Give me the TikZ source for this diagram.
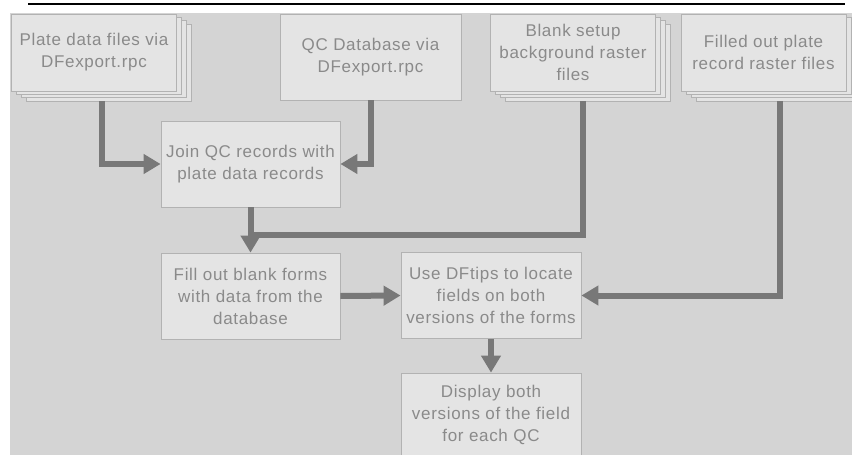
\documentclass[tikz,border=0pt]{standalone}
\usepackage{fontspec}
\setmainfont{Liberation Sans}[LetterSpace=4]
\usetikzlibrary{arrows.meta,shadows,positioning}

\definecolor{paper}{HTML}{D4D4D4}
\definecolor{boxfill}{HTML}{E4E4E4}
\definecolor{boxline}{HTML}{B2B2B2}
\definecolor{boxtext}{HTML}{8A8A8A}
\definecolor{flowline}{HTML}{787878}

\begin{document}
\begin{tikzpicture}[x=1pt,y=-1pt,
    proc/.style={draw=boxline,fill=boxfill,text=boxtext,line width=0.8pt,
      inner sep=0pt,align=center,minimum width=180pt,minimum height=86pt,
      font=\fontsize{17}{22}\selectfont},
    files/.style={proc,minimum width=165pt,minimum height=77pt,
      copy shadow={shadow xshift=15pt,shadow yshift=-10pt},
      copy shadow={shadow xshift=10pt,shadow yshift=-6.7pt},
      copy shadow={shadow xshift=5pt,shadow yshift=-3.3pt}},
    flow/.style={color=flowline,line width=6pt,-{Triangle[length=17pt,width=19pt]}},
    elbow/.style={to path={|- (\tikztotarget)}}]
  \useasboundingbox (0,0) rectangle (852,455);
  \clip (0,0) rectangle (852,455);
  \draw[line width=1.5pt] (28,4) -- (845,4);
  \fill[paper] (10,13) rectangle (852,455);

  % sources
  \node[files] (plate) at (94,52.5) {Plate data files via\\DFexport.rpc};
  \node[proc,minimum width=181pt] (qcdb) at (370.5,57) {QC Database via\\DFexport.rpc};
  \node[files] (blank) at (573,52.5) {Blank setup\\background raster\\files};
  \node[files] (filled) at (763.5,52.5) {Filled out plate\\record raster files};

  % steps
  \node[proc,minimum width=179pt] (join) at (250.5,164) {Join QC records with\\plate data records};
  \node[proc,minimum width=179pt] (fill) at (250.5,296) {Fill out blank forms\\with data from the\\database};
  \node[proc] (usetips) at (491,295.5) {Use DFtips to locate\\fields on both\\versions of the forms};
  \node[proc,minimum height=84pt] (display) at (491,415) {Display both\\versions of the field\\for each QC};
  \coordinate[below=28pt of join.south] (merge);

  \path[flow]
    ([xshift=8pt,yshift=-10pt]plate.south) edge [elbow] (join.west)
    (qcdb.south) edge [elbow] (join.east)
    ([xshift=10pt,yshift=-10pt]blank.south) edge [elbow,-] (merge)
    (join.south) edge (fill.north)
    ([xshift=16.5pt,yshift=-10pt]filled.south) edge [elbow] (usetips.east)
    (fill.east) edge (usetips.west)
    (usetips.south) edge (display.north);
\end{tikzpicture}
\end{document}
